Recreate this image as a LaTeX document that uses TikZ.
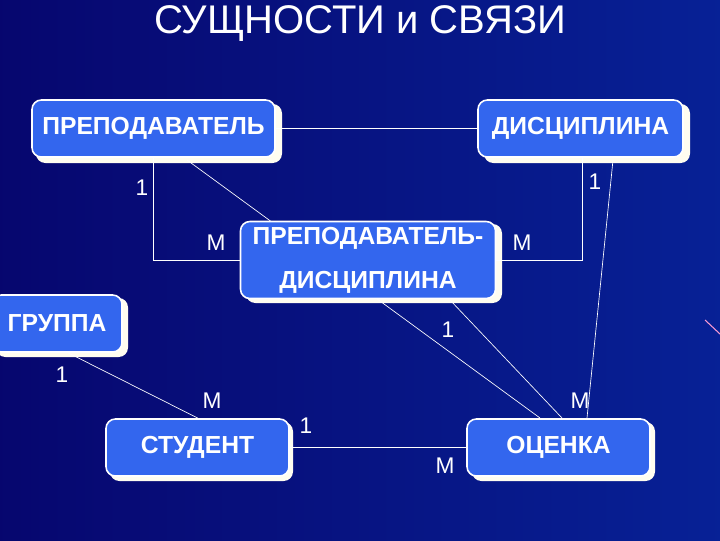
\documentclass[tikz,border=0pt]{standalone}
\usepackage{fontspec}
\setmainfont{Liberation Sans}
\begin{document}
\begin{tikzpicture}[x=0.75pt,y=-0.75pt,
  ent/.style={fill=boxblue,draw=white,line width=1.2pt,rounded corners=7pt,
    font=\fontsize{18.5}{20}\selectfont\bfseries,text=white,inner sep=1pt},
  shd/.style={fill=shadowc,rounded corners=7pt},
  lnk/.style={draw=white,line width=0.5pt},
  lbl/.style={text=white,font=\fontsize{17}{19}\selectfont,inner sep=0pt}]
\definecolor{boxblue}{HTML}{3366EE}
\definecolor{shadowc}{HTML}{FFFDF0}
\definecolor{bgblue}{HTML}{08088A}
\useasboundingbox (0,0) rectangle (720,540);
\shade[left color=bgblue!80!black,right color=bgblue!90!cyan] (0,0) rectangle (720,540);
\draw[magenta!40,line width=0.8pt] (705,320) -- (720,334);
\node[text=white,font=\fontsize{30}{32}\selectfont] (title) at (360,24) {СУЩНОСТИ и СВЯЗИ};
% shadows
\fill[shd] (36,104) rectangle (282,163);
\fill[shd] (484,104) rectangle (690,163);
\fill[shd] (246,224) rectangle (502,303);
\fill[shd] (-4,298) rectangle (128,357);
\fill[shd] (110,422) rectangle (293,481);
\fill[shd] (472,422) rectangle (655,481);
% links (drawn before boxes)
\coordinate (tb) at (187,160);
\coordinate (oc1) at (540,418);
\coordinate (db) at (613,160);
\coordinate (oc2) at (587,418);
\coordinate (mb) at (450,300);
\coordinate (oc3) at (562,418);
\path[lnk] (tb) -- (oc1);
\path[lnk] (db) -- (oc2);
\path[lnk] (mb) -- (oc3);
% boxes
\node[ent,minimum width=243pt*0.75,minimum height=57pt*0.75] (prep) at (153.5,128.5) {ПРЕПОДАВАТЕЛЬ};
\node[ent,minimum width=205pt*0.75,minimum height=57pt*0.75] (disc) at (580.5,128.5) {ДИСЦИПЛИНА};
\node[ent,minimum width=255pt*0.75,minimum height=77pt*0.75,align=center] (pd) at (368,260) {ПРЕПОДАВАТЕЛЬ-\\[13pt]ДИСЦИПЛИНА};
\node[ent,minimum width=130pt*0.75,minimum height=57pt*0.75] (grp) at (57,323.5) {ГРУППА};
\node[ent,minimum width=183pt*0.75,minimum height=57pt*0.75] (stud) at (197.5,447.5) {СТУДЕНТ};
\node[ent,minimum width=183pt*0.75,minimum height=57pt*0.75] (ocen) at (558.5,447.5) {ОЦЕНКА};
\path[lnk] (prep.east) -- (disc.west);
\path[lnk] (prep.south -| 153,0) |- (pd.west);
\path[lnk] (disc.south -| 582,0) |- (pd.east);
\path[lnk] (grp.south -| 68,0) -- (stud.north -| 198,0);
\path[lnk] (stud.east) -- (ocen.west);
% labels
\node[lbl] (l1) at (142,188) {1};
\node[lbl] (l2) at (216,243) {М};
\node[lbl] (l3) at (595,182) {1};
\node[lbl] (l4) at (522,243) {М};
\node[lbl] (l5) at (448,330) {1};
\node[lbl] (l6) at (62,375) {1};
\node[lbl] (l7) at (212,401) {М};
\node[lbl] (l8) at (580,401) {М};
\node[lbl] (l9) at (306,426) {1};
\node[lbl] (l10) at (445,466) {М};
\end{tikzpicture}
\end{document}
